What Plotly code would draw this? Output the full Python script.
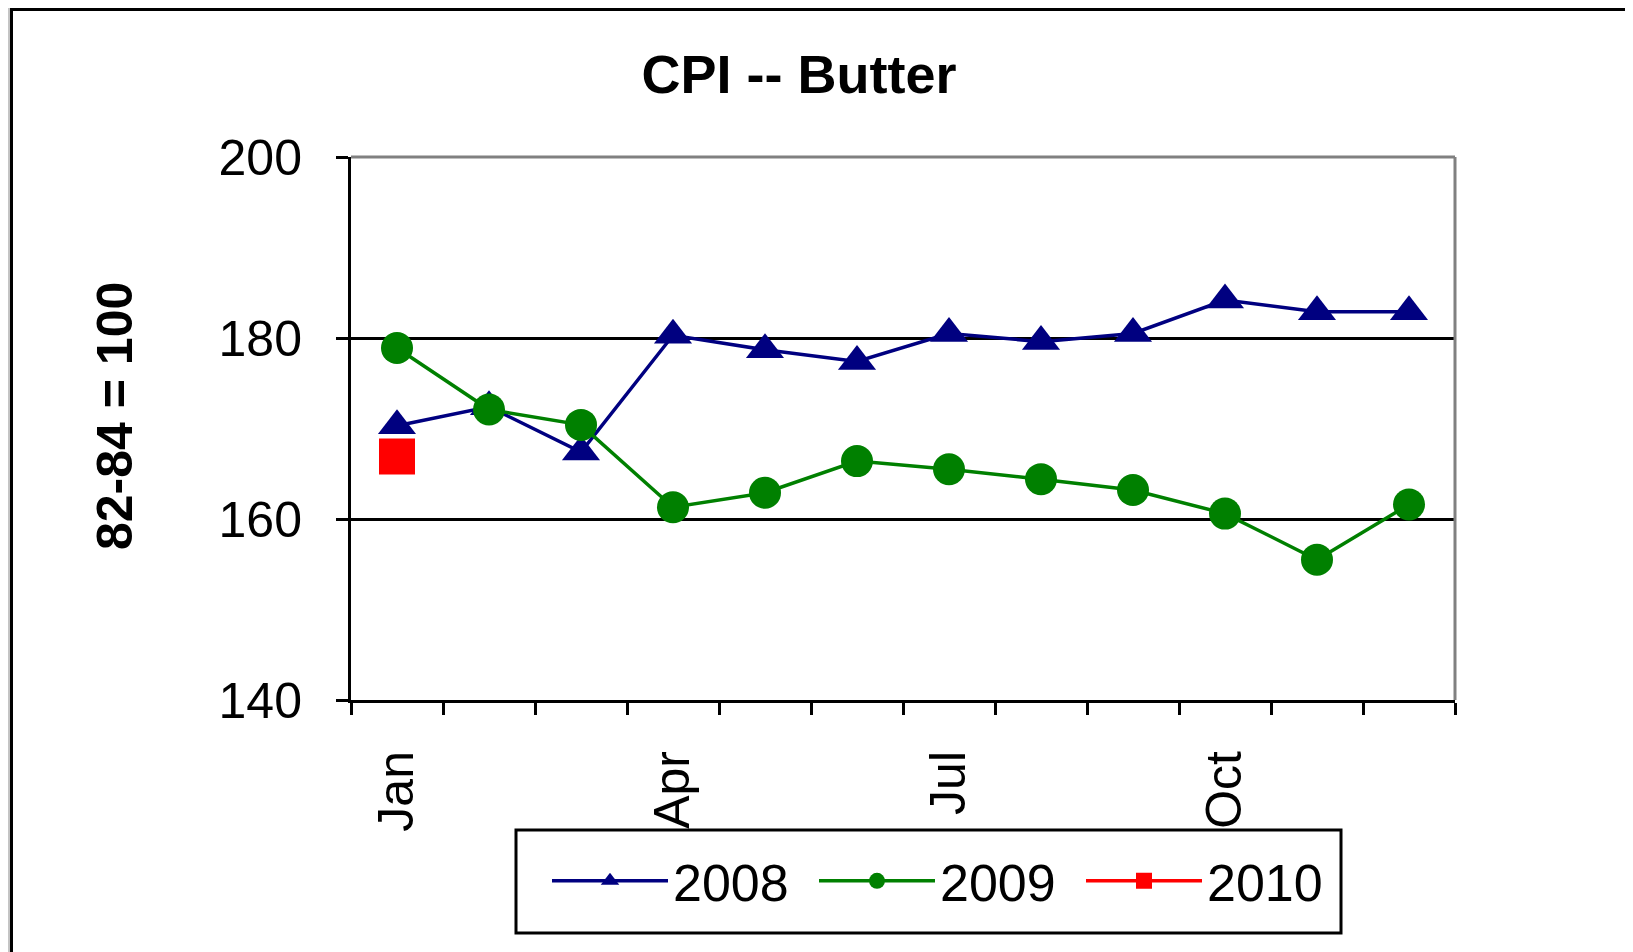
import plotly.graph_objects as go

months = ["Jan", "Feb", "Mar", "Apr", "May", "Jun", "Jul", "Aug", "Sep", "Oct", "Nov", "Dec"]
cpi_2008 = [170.3, 172.4, 167.4, 180.3, 178.7, 177.4, 180.5, 179.6, 180.5, 184.2, 182.9, 182.9]
cpi_2009 = [178.9, 172.1, 170.4, 161.3, 162.9, 166.4, 165.5, 164.4, 163.2, 160.6, 155.5, 161.6]
cpi_2010 = [166.9]
tick_months = ["Jan", "Apr", "Jul", "Oct"]
y_ticks = [140, 160, 180, 200]

FONT = "Arial, Liberation Sans, sans-serif"
OFF = 8                      # browser body margin
SW, SH = 1633, 952           # screen size
W, H = SW - OFF, SH - OFF    # figure size
# plot area in screen pixels
L, R, T, B = 351, 1455, 157, 700

idx = list(range(len(months)))
fig = go.Figure()
fig.add_trace(go.Scatter(x=idx, y=cpi_2008, name="2008", mode="lines+markers",
                         line=dict(color="#000080", width=3.5),
                         marker=dict(symbol="triangle-up", size=33, color="#000080")))
fig.add_trace(go.Scatter(x=idx, y=cpi_2009, name="2009", mode="lines+markers",
                         line=dict(color="#008000", width=3.5),
                         marker=dict(symbol="circle", size=32, color="#008000")))
fig.add_trace(go.Scatter(x=idx[:len(cpi_2010)], y=cpi_2010, name="2010", mode="lines+markers",
                         line=dict(color="#FF0000", width=3.5),
                         marker=dict(symbol="square", size=36, color="#FF0000")))

pw, ph = R - L, B - T
def px(xs):
    return (xs - L) / pw
def py(ys):
    return (B - ys) / ph

shapes = [
    # outer chart frame
    dict(type="rect", xref="paper", yref="paper", x0=px(11.5), x1=px(1631.5), y0=py(1000), y1=py(OFF + 1.5),
         line=dict(color="black", width=3), fillcolor="white", layer="below"),
    # gray plot frame top/right
    dict(type="line", xref="paper", yref="paper", x0=0, x1=1, y0=1, y1=1,
         line=dict(color="#808080", width=3), layer="above"),
    dict(type="line", xref="paper", yref="paper", x0=1, x1=1, y0=0, y1=1,
         line=dict(color="#808080", width=3), layer="above"),
    # legend box
    dict(type="rect", xref="paper", yref="paper", x0=px(516), x1=px(1341), y0=py(933), y1=py(830),
         line=dict(color="black", width=3), fillcolor="white", layer="above"),
]

fig.update_layout(
    width=W, height=H,
    margin=dict(l=L - OFF, r=SW - R, t=T - OFF, b=SH - B),
    paper_bgcolor="#c4c4c4", plot_bgcolor="white",
    font=dict(family=FONT, size=50, color="black"),
    title=dict(text="<b>CPI -- Butter</b>", x=px(799), xref="paper", xanchor="center",
               y=1 - (74 - OFF) / H, yref="container", yanchor="middle",
               font=dict(family=FONT, size=54, color="black")),
    showlegend=True,
    legend=dict(orientation="h", x=px(547), y=py(881), xanchor="left", yanchor="middle",
                bgcolor="rgba(0,0,0,0)", borderwidth=0, itemwidth=116, entrywidth=136,
                font=dict(family=FONT, size=52, color="black")),
    shapes=shapes,
    annotations=[dict(text="<b>82-84 = 100</b>", textangle=-90, xref="paper", yref="paper",
                      x=px(115), y=py(416), showarrow=False, xanchor="center", yanchor="middle",
                      font=dict(family=FONT, size=50, color="black"))],
)

fig.update_xaxes(range=[-0.5, len(months) - 0.5], tickmode="array",
                 tickvals=[months.index(m) for m in tick_months], ticktext=tick_months,
                 ticks="", tickangle=-90, ticklabelstandoff=28,
                 showline=True, linecolor="black", linewidth=3, showgrid=False, zeroline=False,
                 minor=dict(tickmode="array", tickvals=[i - 0.5 for i in range(len(months) + 1)],
                            ticks="outside", ticklen=12, tickwidth=3, tickcolor="black", showgrid=False),
                 tickfont=dict(family=FONT, size=50, color="black"))
fig.update_yaxes(range=[y_ticks[0], y_ticks[-1]], tickmode="array", tickvals=y_ticks,
                 ticks="outside", ticklen=12, tickwidth=3, tickcolor="black", ticklabelstandoff=24,
                 showline=True, linecolor="black", linewidth=3,
                 showgrid=True, gridcolor="black", gridwidth=3, zeroline=False,
                 tickfont=dict(family=FONT, size=50, color="black"))

fig.write_html("out.html")
